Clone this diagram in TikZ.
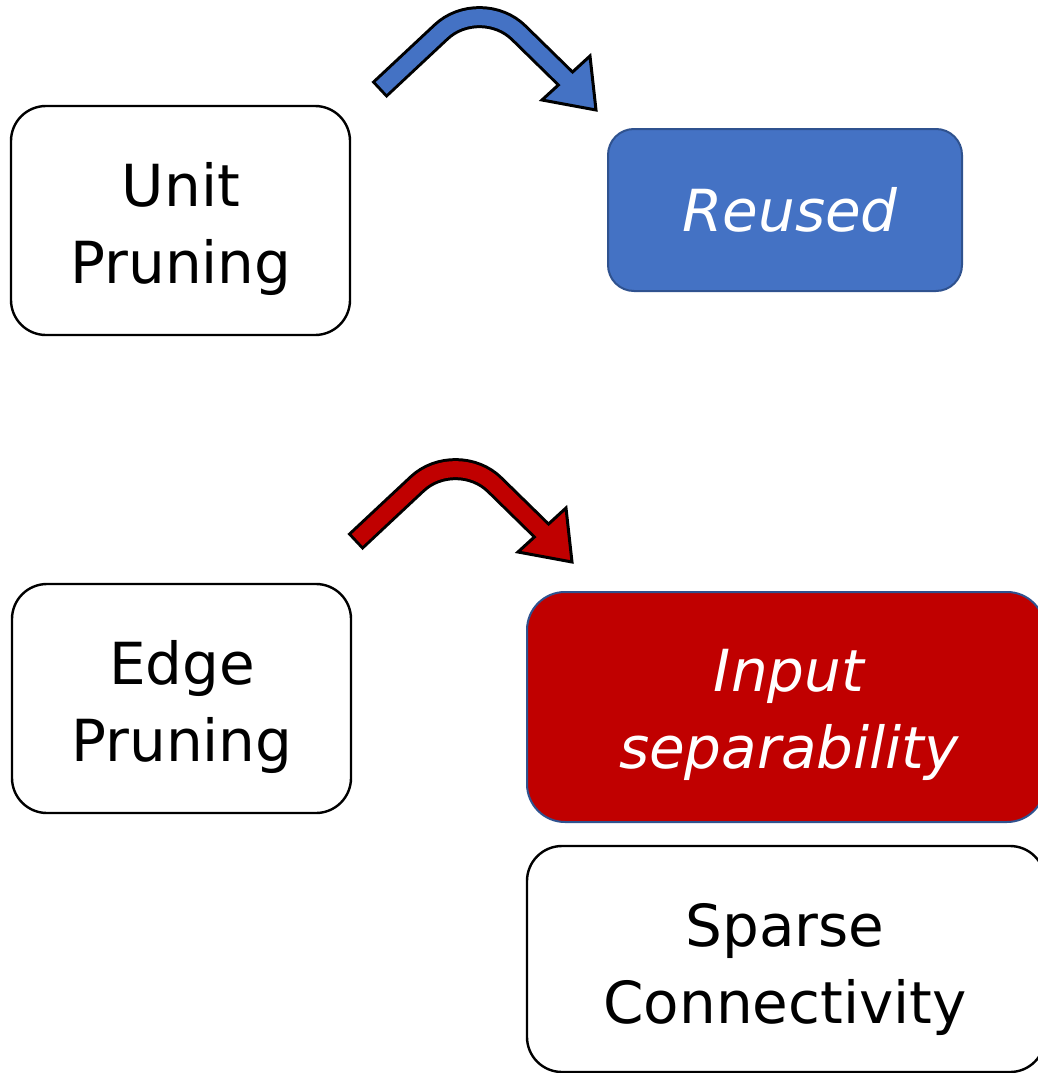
\documentclass[tikz,border=0pt]{standalone}
\usepackage{fontspec}
\newfontfamily\boxfont{DejaVu Sans}
\definecolor{accentblue}{HTML}{4472C4}
\definecolor{edgeblue}{HTML}{2F528F}
\definecolor{darkred}{HTML}{C00000}

% Bent block arrow: black outline, coloured body, triangular head
\newcommand{\drawbentarrow}[3]{%
  \begin{scope}[shift={(#1,#2)}]
    \draw[line width=22pt, black]
      (379,90) -- (441,32) .. controls (462,12) and (498,12) .. (519,33) -- (566,79);
    \draw[line width=3pt, fill=#3, line join=miter]
      (590,56) -- (596,110) -- (542,100) -- cycle;
    \draw[line width=16pt, #3]
      (381.2,88) -- (441,32) .. controls (462,12) and (498,12) .. (519,33) -- (569,82);
  \end{scope}}

\begin{document}
\begin{tikzpicture}[x=1pt, y=-1pt,
  card/.style={draw=black, line width=2.4pt, fill=white, rounded corners=35pt},
  bluecard/.style={draw=edgeblue, line width=2pt, fill=accentblue, rounded corners=26pt},
  redcard/.style={draw=edgeblue, line width=2pt, fill=darkred, rounded corners=38pt},
  lbl/.style={font=\boxfont\fontsize{58}{77}\selectfont, align=center, inner sep=0pt},
  emph/.style={lbl, text=white, font=\boxfont\itshape\fontsize{58}{77}\selectfont}]

  \useasboundingbox (0,0) rectangle (1038,1073);
  \clip (0,0) rectangle (1038,1073);

  % upper row
  \node[card, minimum width=339pt, minimum height=229pt] (unit) at (180.5,220.5) {};
  \node[lbl] (unitText) at (181,229) {Unit\\Pruning};
  \node[bluecard, minimum width=354pt, minimum height=162pt] (reused) at (785,210) {};
  \node[emph] (reusedText) at (790,210) {Reused};

  % lower row
  \node[card, minimum width=339pt, minimum height=229pt] (edge) at (181.5,698.5) {};
  \node[lbl] (edgeText) at (182,707) {Edge\\Pruning};
  \node[redcard, minimum width=518pt, minimum height=230pt] (input) at (786,707) {};
  \node[emph] (inputText) at (789,715) {Input\\separability};
  \node[card, minimum width=518pt, minimum height=226pt] (sparse) at (786,959) {};
  \node[lbl] (sparseText) at (785,969.5) {Sparse\\Connectivity};

  % arrows
  \drawbentarrow{0}{0}{accentblue}
  \drawbentarrow{-24}{452}{darkred}
\end{tikzpicture}
\end{document}
